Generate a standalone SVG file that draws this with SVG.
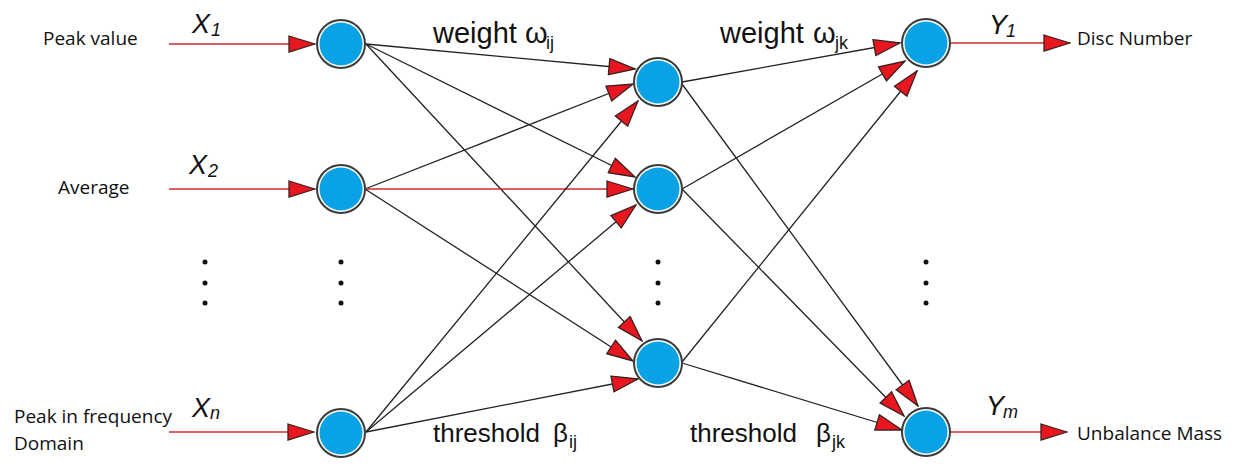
<svg xmlns="http://www.w3.org/2000/svg" width="1240" height="470" viewBox="0 0 1240 470">
<style>
.lbl{font-family:"Open Sans","Liberation Sans",sans-serif;font-size:19px;fill:#111}
.var{font-family:"Liberation Sans",Arial,sans-serif;font-style:italic;font-size:27px;fill:#111}
.sub{font-size:18px}
.par{font-family:"Liberation Sans",Arial,sans-serif;fill:#111}
.edge{stroke:#222;stroke-width:1.3;fill:none}
.red{stroke:#d22a2a;stroke-width:1.6;fill:none}
.ring{fill:#fff;stroke:#3a3a3a;stroke-width:2}
.core{fill:#09a2e4}
.dot{fill:#111}
</style>
<defs>
<marker id="ah" viewBox="0 0 28 18" refX="27" refY="9" markerWidth="28" markerHeight="18" markerUnits="userSpaceOnUse" orient="auto">
<path d="M1,1 L27,9 L1,17 Z" fill="#e8161e" stroke="#3a2020" stroke-width="1.3" stroke-linejoin="miter"/>
</marker>
</defs>
<rect width="1240" height="470" fill="#fff"/>

<g id="connectors">
<line class="red" x1="169" y1="44" x2="315" y2="44" marker-end="url(#ah)"/>
<line class="red" x1="169" y1="189" x2="315" y2="189" marker-end="url(#ah)"/>
<line class="red" x1="169" y1="432" x2="314" y2="432" marker-end="url(#ah)"/>
<line class="edge" x1="366" y1="44" x2="635" y2="69" marker-end="url(#ah)"/>
<line class="edge" x1="366" y1="44" x2="635" y2="177" marker-end="url(#ah)"/>
<line class="edge" x1="366" y1="44" x2="642" y2="341" marker-end="url(#ah)"/>
<line class="edge" x1="365" y1="189" x2="633" y2="84" marker-end="url(#ah)"/>
<line class="red" x1="365" y1="189" x2="633" y2="189" marker-end="url(#ah)"/>
<line class="edge" x1="365" y1="189" x2="633" y2="361" marker-end="url(#ah)"/>
<line class="edge" x1="366" y1="432" x2="638" y2="101" marker-end="url(#ah)"/>
<line class="edge" x1="366" y1="432" x2="636" y2="205" marker-end="url(#ah)"/>
<line class="edge" x1="366" y1="432" x2="638" y2="379" marker-end="url(#ah)"/>
<line class="edge" x1="682" y1="82" x2="900" y2="43" marker-end="url(#ah)"/>
<line class="edge" x1="682" y1="84" x2="918" y2="406" marker-end="url(#ah)"/>
<line class="edge" x1="682" y1="189" x2="905" y2="61" marker-end="url(#ah)"/>
<line class="edge" x1="682" y1="189" x2="904" y2="416" marker-end="url(#ah)"/>
<line class="edge" x1="682" y1="362" x2="917" y2="71" marker-end="url(#ah)"/>
<line class="edge" x1="682" y1="363" x2="902" y2="430" marker-end="url(#ah)"/>
<line class="red" x1="951" y1="43" x2="1070" y2="43" marker-end="url(#ah)"/>
<line class="red" x1="950" y1="432" x2="1067" y2="432" marker-end="url(#ah)"/>
</g>

<g id="input1"><circle class="ring" cx="341" cy="44" r="24"/><circle class="core" cx="341" cy="44" r="21.5"/></g>
<g id="input2"><circle class="ring" cx="341" cy="189" r="24"/><circle class="core" cx="341" cy="189" r="21.5"/></g>
<g id="input3"><circle class="ring" cx="341" cy="433" r="24"/><circle class="core" cx="341" cy="433" r="21.5"/></g>
<g id="hidden1"><circle class="ring" cx="658" cy="82" r="24"/><circle class="core" cx="658" cy="82" r="21.5"/></g>
<g id="hidden2"><circle class="ring" cx="658" cy="189" r="24"/><circle class="core" cx="658" cy="189" r="21.5"/></g>
<g id="hidden3"><circle class="ring" cx="658" cy="363" r="24"/><circle class="core" cx="658" cy="363" r="21.5"/></g>
<g id="output1"><circle class="ring" cx="926" cy="43" r="24"/><circle class="core" cx="926" cy="43" r="21.5"/></g>
<g id="output2"><circle class="ring" cx="926" cy="432" r="24"/><circle class="core" cx="926" cy="432" r="21.5"/></g>

<g id="dots">
<circle class="dot" cx="205" cy="262" r="2.5"/><circle class="dot" cx="205" cy="283" r="2.5"/><circle class="dot" cx="205" cy="303" r="2.5"/>
<circle class="dot" cx="341" cy="262" r="2.5"/><circle class="dot" cx="341" cy="283" r="2.5"/><circle class="dot" cx="341" cy="303" r="2.5"/>
<circle class="dot" cx="658" cy="262" r="2.5"/><circle class="dot" cx="658" cy="283" r="2.5"/><circle class="dot" cx="658" cy="303" r="2.5"/>
<circle class="dot" cx="926" cy="262" r="2.5"/><circle class="dot" cx="926" cy="283" r="2.5"/><circle class="dot" cx="926" cy="303" r="2.5"/>
</g>

<g id="labels">
<text class="lbl" x="43" y="45">Peak value</text>
<text class="lbl" x="58" y="194">Average</text>
<text class="lbl" x="14" y="423">Peak in frequency</text>
<text class="lbl" x="14" y="450">Domain</text>
<text class="lbl" x="1077" y="45">Disc Number</text>
<text class="lbl" x="1077" y="440">Unbalance Mass</text>

<text class="var" x="192" y="33">X<tspan class="sub" x="211" y="36">1</tspan></text>
<text class="var" x="189" y="174">X<tspan class="sub" x="208" y="177">2</tspan></text>
<text class="var" x="192" y="417">X<tspan class="sub" x="210" y="419">n</tspan></text>
<text class="var" x="989" y="34">Y<tspan class="sub" x="1006" y="37">1</tspan></text>
<text class="var" x="986" y="415">Y<tspan class="sub" x="1003" y="418">m</tspan></text>

<text class="par" font-size="29" x="433" y="43">weight<tspan x="525">ω</tspan><tspan font-size="18" x="546" y="49">ij</tspan></text>
<text class="par" font-size="29" x="720" y="43">weight<tspan x="813">ω</tspan><tspan font-size="18" x="835" y="49">jk</tspan></text>
<text class="par" font-size="26" x="433" y="442">threshold<tspan x="553">β</tspan><tspan font-size="18" x="569" y="448">ij</tspan></text>
<text class="par" font-size="26" x="690" y="442">threshold<tspan x="816">β</tspan><tspan font-size="18" x="832" y="448">jk</tspan></text>
</g>
</svg>
